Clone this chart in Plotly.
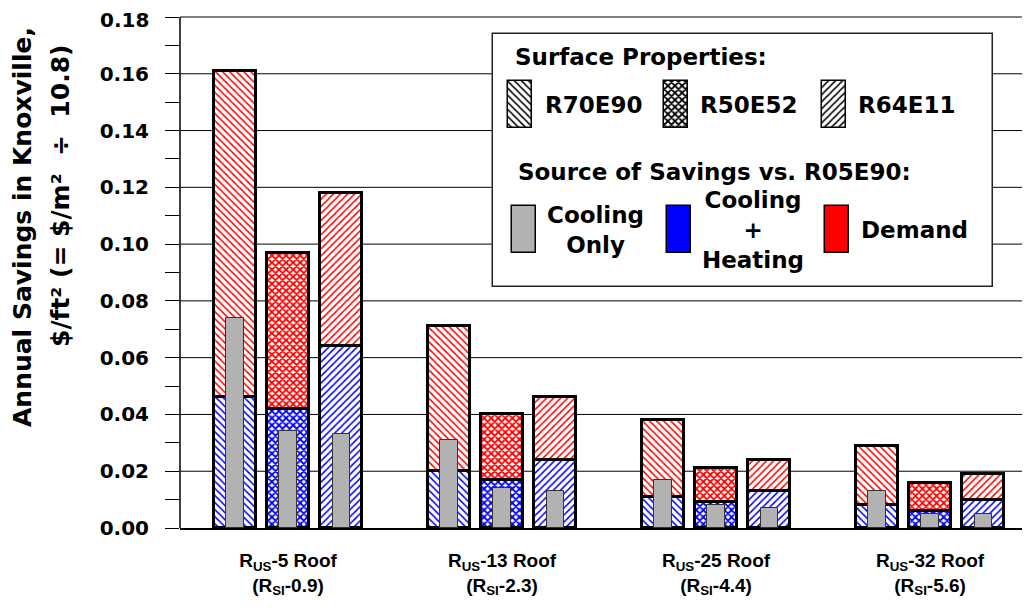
import plotly.graph_objects as go

# ---------------- data ----------------
group_labels = [
    "R<sub>US</sub>-5 Roof<br>(R<sub>SI</sub>-0.9)",
    "R<sub>US</sub>-13 Roof<br>(R<sub>SI</sub>-2.3)",
    "R<sub>US</sub>-25 Roof<br>(R<sub>SI</sub>-4.4)",
    "R<sub>US</sub>-32 Roof<br>(R<sub>SI</sub>-5.6)",
]
surfaces = ["R70E90", "R50E52", "R64E11"]

# total savings (cooling + heating + demand)
total_r70e90 = [0.161, 0.071, 0.038, 0.029]
total_r50e52 = [0.097, 0.040, 0.021, 0.016]
total_r64e11 = [0.118, 0.046, 0.024, 0.019]
# cooling + heating savings
coolheat_r70e90 = [0.046, 0.020, 0.011, 0.008]
coolheat_r50e52 = [0.042, 0.017, 0.009, 0.006]
coolheat_r64e11 = [0.064, 0.024, 0.013, 0.010]
# cooling-only savings
coolonly_r70e90 = [0.074, 0.031, 0.017, 0.013]
coolonly_r50e52 = [0.034, 0.014, 0.008, 0.005]
coolonly_r64e11 = [0.033, 0.013, 0.007, 0.005]

# y ticks every 0.01, labelled every 0.02 (the top 0.18 label is placed as an annotation)
y_tick_vals = [0.00, 0.01, 0.02, 0.03, 0.04, 0.05, 0.06, 0.07, 0.08, 0.09,
               0.10, 0.11, 0.12, 0.13, 0.14, 0.15, 0.16, 0.17, 0.18]
y_tick_text = ["0.00", "", "0.02", "", "0.04", "", "0.06", "", "0.08", "",
               "0.10", "", "0.12", "", "0.14", "", "0.16", "", ""]
y_grid_vals = [0.02, 0.04, 0.06, 0.08, 0.10, 0.12, 0.14, 0.16]
y_top_val = 0.18
y_top_text = "0.18"

# ---------------- styles ----------------
FONT = "DejaVu Sans"
ARIAL = "Liberation Sans, Arial"
patterns = {"R70E90": "\\", "R50E52": "x", "R64E11": "/"}
pat_size = {"R70E90": 5, "R50E52": 5, "R64E11": 5}
pat_sol = {"R70E90": 0.3, "R50E52": 0.6, "R64E11": 0.3}
BLUE = "#0000ff"
RED = "#ff0000"
GRAY = "#b2b2b2"

totals = [total_r70e90, total_r50e52, total_r64e11]
coolheats = [coolheat_r70e90, coolheat_r50e52, coolheat_r64e11]
coolonlys = [coolonly_r70e90, coolonly_r50e52, coolonly_r64e11]
offsets = [-0.248, 0.0, 0.248]
BAR_W = 0.193
GRAY_W = 0.08

xpos = list(range(len(group_labels)))

# page geometry (the page body has an 8px margin)
PAGE_OFF = 8
PLOT_L, PLOT_R, PLOT_T, PLOT_B = 180, 1030, 8, 528
Y_AT_TOP = 17.0                     # pixel row of the 0.18 gridline
Y_TOP = y_top_val * (PLOT_B - PLOT_T) / (PLOT_B - Y_AT_TOP)
Y_RANGE = [0, Y_TOP]


def px2paper_x(px):
    return (px - PLOT_L) / (PLOT_R - PLOT_L)


def px2paper_y(py):
    return (PLOT_B - py) / (PLOT_B - PLOT_T)


def val2paper_y(v):
    return v / Y_TOP


fig = go.Figure()

# major gridlines, placed through the y axis scale
for v in y_grid_vals:
    fig.add_shape(type="line", xref="paper", x0=0, x1=1, yref="y", y0=v, y1=v,
                  line=dict(color="black", width=1), layer="below")
fig.add_shape(type="line", xref="paper", x0=0, x1=1, yref="paper",
              y0=val2paper_y(y_top_val), y1=val2paper_y(y_top_val),
              line=dict(color="black", width=1), layer="below")
# left axis line, from 0 up to the 0.18 tick
fig.add_shape(type="line", xref="paper", x0=0, x1=0, yref="paper",
              y0=0, y1=val2paper_y(y_top_val),
              line=dict(color="black", width=1.5), layer="above")

for s, tot, ch, off in zip(surfaces, totals, coolheats, offsets):
    xs = [x + off for x in xpos]
    demand = [t - c for t, c in zip(tot, ch)]
    fig.add_trace(go.Bar(
        x=xs, y=ch, base=[0] * len(ch), width=BAR_W,
        marker=dict(color="white",
                    pattern=dict(shape=patterns[s], fgcolor=BLUE, bgcolor="white",
                                 size=pat_size[s], solidity=pat_sol[s], fillmode="replace"),
                    line=dict(color="black", width=3)),
        showlegend=False, hoverinfo="skip"))
    fig.add_trace(go.Bar(
        x=xs, y=demand, base=ch, width=BAR_W,
        marker=dict(color="white",
                    pattern=dict(shape=patterns[s], fgcolor=RED, bgcolor="white",
                                 size=pat_size[s], solidity=pat_sol[s], fillmode="replace"),
                    line=dict(color="black", width=3)),
        showlegend=False, hoverinfo="skip"))

# cooling-only bars on the (right-side) overlay y axis with identical range -> drawn on top
for s, co, off in zip(surfaces, coolonlys, offsets):
    xs = [x + off for x in xpos]
    fig.add_trace(go.Bar(
        x=xs, y=co, base=[0] * len(co), width=GRAY_W, yaxis="y2",
        marker=dict(color=GRAY, line=dict(color="#333333", width=1)),
        showlegend=False, hoverinfo="skip"))

# ---------------- custom legend (pixel-coordinate overlay axes) ----------------
legend_box = dict(cx=743, w=500, top=34, h=253)
swatch_surface_x = [520, 676, 834]
swatch_source_x = [523.5, 679, 836.5]
swatch_source_colors = [GRAY, BLUE, RED]
SW_W, SW_H = 24, 47

fig.add_trace(go.Bar(
    x=[legend_box["cx"]], y=[legend_box["h"]], base=[legend_box["top"]], width=[legend_box["w"]],
    xaxis="x3", yaxis="y3",
    marker=dict(color="white", line=dict(color="#222222", width=1.5)),
    showlegend=False, hoverinfo="skip"))
for s, x in zip(surfaces, swatch_surface_x):
    fig.add_trace(go.Bar(
        x=[x], y=[SW_H], base=[81], width=[SW_W], xaxis="x3", yaxis="y3",
        marker=dict(color="white",
                    pattern=dict(shape=patterns[s], fgcolor="black", bgcolor="white",
                                 size=pat_size[s], solidity=pat_sol[s], fillmode="replace"),
                    line=dict(color="black", width=1.5)),
        showlegend=False, hoverinfo="skip"))
for c, x in zip(swatch_source_colors, swatch_source_x):
    fig.add_trace(go.Bar(
        x=[x], y=[SW_H], base=[206], width=[SW_W], xaxis="x3", yaxis="y3",
        marker=dict(color=c, line=dict(color="black", width=1.5)),
        showlegend=False, hoverinfo="skip"))

lf = dict(family=FONT, size=23, color="black", weight="bold")
legend_texts = [
    ("Surface Properties:", 513, 57, "left"),
    ("R70E90", 543, 105, "left"),
    ("R50E52", 698, 105, "left"),
    ("R64E11", 856, 105, "left"),
    ("Source of Savings vs. R05E90:", 516, 172, "left"),
    ("Cooling<br>Only", 595, 230, "center"),
    ("Cooling<br>+<br>Heating", 753, 230, "center"),
    ("Demand", 859, 230, "left"),
]
annotations = []
for t, x, y, xa in legend_texts:
    annotations.append(dict(text=t, x=x, y=y, xref="x3", yref="y3", xanchor=xa,
                            yanchor="middle", showarrow=False, font=lf, align="center"))

# top y tick label (kept just inside the page edge)
annotations.append(dict(text=y_top_text, x=px2paper_x(151), y=px2paper_y(20),
                        xref="paper", yref="paper", xanchor="right", yanchor="middle",
                        showarrow=False,
                        font=dict(family=FONT, size=20, color="black", weight="bold")))

tf = dict(family=FONT, size=25, color="black", weight="bold")
annotations.append(dict(text="Annual Savings in Knoxville,", x=px2paper_x(23), y=px2paper_y(227),
                        xref="paper", yref="paper",
                        textangle=-90, showarrow=False, font=tf, xanchor="center", yanchor="middle"))
annotations.append(dict(text="$/ft² (= $/m²  ÷  10.8)", x=px2paper_x(60), y=px2paper_y(196),
                        xref="paper", yref="paper",
                        textangle=-90, showarrow=False, font=tf, xanchor="center", yanchor="middle"))

fig.update_layout(
    width=1030 - PAGE_OFF, height=616 - PAGE_OFF,
    margin=dict(l=PLOT_L - PAGE_OFF, r=0, t=PLOT_T - PAGE_OFF, b=616 - PLOT_B, pad=0),
    paper_bgcolor="white", plot_bgcolor="white",
    barmode="overlay", bargap=0,
    showlegend=False,
    annotations=annotations,
    xaxis=dict(
        range=[-0.5047, 3.467], tickvals=xpos, ticktext=group_labels,
        showgrid=False, zeroline=False, showline=True, linecolor="black", linewidth=2, ticks="",
        tickfont=dict(family=ARIAL, size=19, color="black", weight="bold"),
        ticklabelstandoff=14, automargin=False,
    ),
    yaxis=dict(
        range=Y_RANGE, autorange=False, tickmode="array", tickvals=y_tick_vals, ticktext=y_tick_text,
        showgrid=False, zeroline=False, showline=False,
        ticks="outside", ticklen=14, tickcolor="black", tickwidth=1,
        tickfont=dict(family=FONT, size=20, color="black", weight="bold"),
        ticklabelstandoff=12, automargin=False,
    ),
    yaxis2=dict(
        overlaying="y", side="right", anchor="x", range=Y_RANGE, autorange=False,
        tickmode="array", tickvals=y_tick_vals,
        showgrid=False, zeroline=False, showline=False, showticklabels=False,
        ticks="inside", ticklen=8, tickcolor="black", tickwidth=1, automargin=False,
    ),
    xaxis3=dict(overlaying="x", anchor="y3", range=[PLOT_L, PLOT_R], visible=False),
    yaxis3=dict(overlaying="y", anchor="x3", range=[PLOT_B, PLOT_T], visible=False),
)

fig.write_html("out.html")
